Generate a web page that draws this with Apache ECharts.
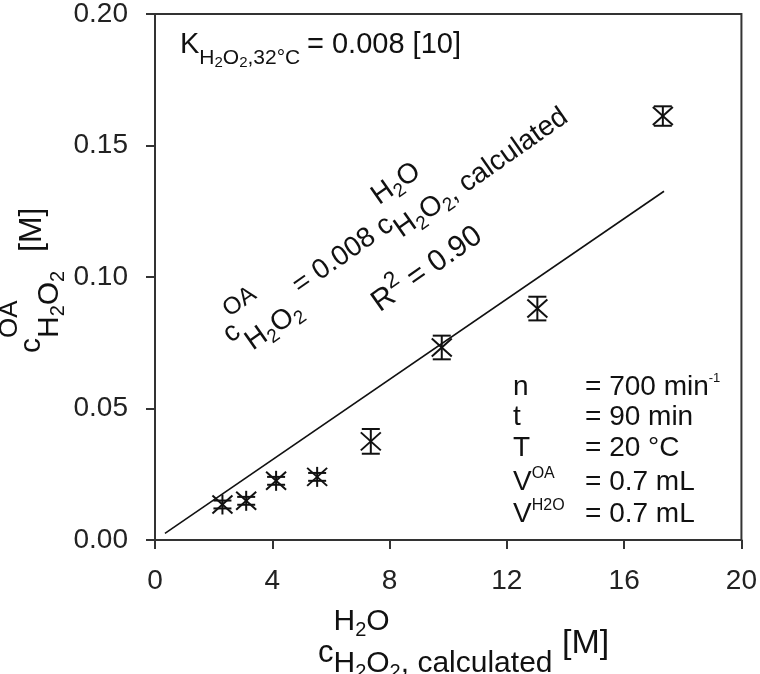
<!DOCTYPE html>
<html><head><meta charset="utf-8">
<script src="https://cdn.jsdelivr.net/npm/echarts@6/dist/echarts.min.js"></script>
<style>html,body{margin:0;padding:0;background:#fff}#c{width:760px;height:674px}</style>
</head><body><div id="c"></div>
<script>
// ---- data ----
const xValues = [2.30, 3.11, 4.13, 5.53, 7.36, 9.78, 13.04, 17.32];
const yValues = [0.0135, 0.0149, 0.0225, 0.0240, 0.0375, 0.0732, 0.0880, 0.1612];
const yErrors = [0.0015, 0.0015, 0.0015, 0.0015, 0.0047, 0.0045, 0.0045, 0.0037];
const fitX = [0.34, 17.36];
const fitY = [0.0025, 0.1326];
const xMin = 0, xMax = 20, xStep = 4;
const yMin = 0, yMax = 0.20, yStep = 0.05;
const paramNames = ['n', 't', 'T', 'V', 'V'];
const paramSups = ['', '', '', 'OA', 'H2O'];
const paramValues = ['= 700 min', '= 90 min', '= 20 °C', '= 0.7 mL', '= 0.7 mL'];
const paramValueSups = ['-1', '', '', '', ''];

// ---- helpers ----
const FAM = '"Liberation Sans", Arial, sans-serif';
const COL = '#111';
const cv = document.createElement('canvas').getContext('2d');
function meas(t, s) { cv.font = s + 'px ' + FAM; return cv.measureText(t).width; }
function run(str, size, dy, subSize, subDy) {
  const out = []; let buf = '';
  for (let i = 0; i < str.length; i++) {
    if (str[i] === '_' && i + 1 < str.length) {
      if (buf) { out.push({t: buf, s: size, dy: dy}); buf = ''; }
      out.push({t: str[i + 1], s: subSize || Math.round(size * 0.68), dy: dy + (subDy == null ? size * 0.28 : subDy)});
      i++;
    } else buf += str[i];
  }
  if (buf) out.push({t: buf, s: size, dy: dy});
  return out;
}
function formula(cols, ox, oy) {
  const ch = []; let x = ox;
  cols.forEach(c => {
    if (c.at != null) x = ox + c.at;
    let maxW = 0;
    c.runs.forEach(r => {
      let xx = x;
      r.forEach(p => {
        ch.push({type: 'text', x: xx, y: oy + p.dy, silent: true,
          style: {text: p.t, font: p.s + 'px ' + FAM, fill: COL,
            textAlign: 'left', textVerticalAlign: 'middle', align: 'left', verticalAlign: 'middle'}});
        xx += meas(p.t, p.s);
      });
      maxW = Math.max(maxW, xx - x);
    });
    x += maxW;
  });
  return ch;
}
const deg = Math.PI / 180;

const graphics = [];
graphics.push({type: 'group', x: 226, y: 337, rotation: 35 * deg, silent: true,
  children: formula([
    {runs: [run('c', 28, 0)]},
    {runs: [run('OA', 24, -21), run('H_2O_2', 28, 19, 19, 8)]},
    {runs: [run(' = 0.008 ', 28, 0)]},
    {runs: [run('c', 28, 0)]},
    {runs: [run('H_2O', 28, -28, 19, 8), run('H_2O_2, calculated', 28, 12, 19, 8)]}
  ], 0, 0).concat(formula([
    {runs: [run('R', 30, 0)]},
    {runs: [run('2', 23, -11)]},
    {runs: [run(' = 0.90', 30, 0)]}
  ], 140, 60))
});
graphics.push({type: 'group', x: 180, y: 45, silent: true,
  children: formula([
    {runs: [run('K', 29, 0)]},
    {runs: [run('H_2O_2,32°C', 21, 13, 15, 5)]},
    {at: 127, runs: [run('= 0.008 [10]', 29, 0)]}
  ], 0, 0)});
graphics.push({type: 'group', x: 32, y: 353, rotation: 90 * deg, silent: true,
  children: formula([
    {runs: [run('c', 30, 0)]},
    {runs: [run('OA', 26, -22), run('H_2O_2', 30, 18, 20, 8)]},
    {at: 101, runs: [run('[M]', 32, 0)]}
  ], 0, 0)});
graphics.push({type: 'group', x: 318, y: 653, silent: true,
  children: formula([
    {runs: [run('c', 31, 0)]},
    {runs: [run('H_2O', 30, -31, 20, 8), run('H_2O_2, calculated', 30, 11, 20, 8)]},
    {at: 244, runs: [run('[M]', 34, -9)]}
  ], 0, 0)});
const rowY = [387, 417, 448, 482, 514];
paramNames.forEach((n, i) => {
  graphics.push({type: 'group', x: 513, y: rowY[i], silent: true,
    children: formula([
      {runs: [run(n, 28, 0)]},
      {runs: [run(paramSups[i], 16, -8, 12, 3)]},
      {at: 72, runs: [run(paramValues[i], 28, 0)]},
      {runs: [run(paramValueSups[i], 13, -9)]}
    ], 0, 0)});
});

const chart = echarts.init(document.getElementById('c'), null, {renderer: 'canvas'});
const axisCommon = {
  type: 'value', splitLine: {show: false},
  axisLine: {show: true, onZero: false, lineStyle: {color: '#333', width: 2}},
  axisTick: {show: true, inside: false, length: 9, lineStyle: {color: '#333', width: 2}},
  axisLabel: {fontSize: 28, color: '#222', fontFamily: FAM, margin: 27}
};
chart.setOption({
  animation: false,
  backgroundColor: '#fff',
  grid: {left: 155, right: 16, top: 13, bottom: 134, show: true, borderColor: '#333', borderWidth: 2},
  xAxis: Object.assign({}, axisCommon, {min: xMin, max: xMax, interval: xStep}),
  yAxis: Object.assign({}, axisCommon, {min: yMin, max: yMax, interval: yStep,
    axisLabel: Object.assign({}, axisCommon.axisLabel, {formatter: v => v.toFixed(2)})}),
  series: [
    {type: 'line', data: fitX.map((x, i) => [x, fitY[i]]), symbol: 'none',
     lineStyle: {color: '#111', width: 1.6}, silent: true},
    {type: 'custom', silent: true,
     data: xValues.map((x, i) => [x, yValues[i], yErrors[i]]),
     encode: {x: 0, y: 1},
     renderItem: function (params, api) {
       const x = api.value(0), y = api.value(1), e = api.value(2);
       const p = api.coord([x, y]), t = api.coord([x, y + e]), b = api.coord([x, y - e]);
       const st = {stroke: '#111', lineWidth: 2};
       const a = 10, h = 9, cap = 9;
       const vt = Math.min(t[1], p[1] - a), vb = Math.max(b[1], p[1] + a);
       return {type: 'group', children: [
         {type: 'line', shape: {x1: p[0], y1: vt, x2: p[0], y2: vb}, style: st},
         {type: 'line', shape: {x1: p[0] - cap, y1: t[1], x2: p[0] + cap, y2: t[1]}, style: st},
         {type: 'line', shape: {x1: p[0] - cap, y1: b[1], x2: p[0] + cap, y2: b[1]}, style: st},
         {type: 'line', shape: {x1: p[0] - a, y1: p[1] - h, x2: p[0] + a, y2: p[1] + h}, style: st},
         {type: 'line', shape: {x1: p[0] - a, y1: p[1] + h, x2: p[0] + a, y2: p[1] - h}, style: st}
       ]};
     }, z: 5}
  ],
  graphic: graphics
});
</script></body></html>
